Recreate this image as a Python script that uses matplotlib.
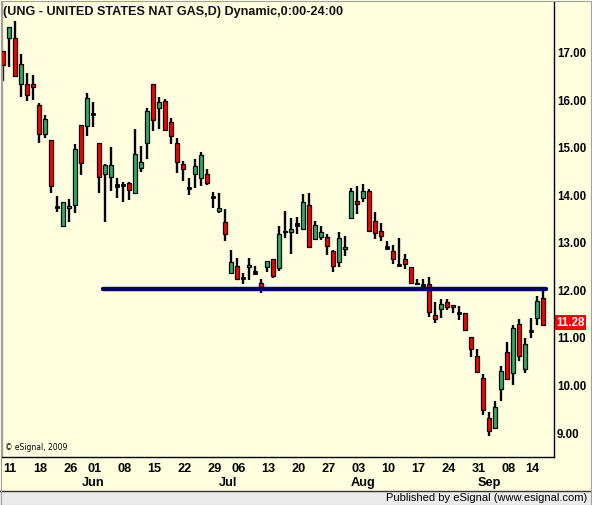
import numpy as np
import matplotlib
matplotlib.use('Agg')
from matplotlib import pyplot as plt
from matplotlib.patches import Rectangle
import matplotlib.transforms as mtransforms

# daily OHLC, UNG, 11 May - 17 Sep 2009 (trading days)
opens = [17.03, 17.31, 17.31, 16.34, 16.34, 16.34, 15.91, 15.29, 15.17, 13.76,
         13.36, 13.73, 13.80, 15.48, 15.47, 15.71, 15.10, 14.45, 14.38, 14.21,
         14.22, 14.26, 14.06, 14.57, 15.11, 16.34, 15.84, 15.99, 15.54, 15.11,
         14.66, 14.15, 14.45, 14.37, 14.45, 13.96, 13.68, 13.44, 12.36, 12.52,
         12.26, 12.49, 12.38, 12.15, 12.49, 12.66, 12.47, 13.26, 13.22, 13.39,
         13.29, 13.80, 13.08, 13.12, 13.12, 12.83, 12.59, 12.87, 13.53, 13.88,
         13.95, 14.09, 13.47, 13.25, 12.90, 12.83, 12.54, 12.66, 12.49, 12.16,
         12.12, 12.13, 11.48, 11.62, 11.75, 11.69, 11.53, 11.52, 11.03, 10.61,
         10.15, 9.31, 9.10, 9.92, 10.70, 10.26, 11.29, 10.34, 11.15, 11.41, 11.84]
highs = [17.03, 17.55, 17.66, 16.98, 16.57, 16.54, 15.94, 15.69, 15.17, 13.99,
         13.86, 13.92, 15.08, 15.48, 16.15, 15.96, 15.11, 14.66, 15.01, 14.36,
         14.29, 14.29, 15.39, 15.04, 15.84, 16.34, 16.07, 16.02, 15.62, 15.20,
         14.73, 14.36, 14.76, 14.91, 14.55, 14.07, 14.05, 13.72, 12.85, 12.68,
         12.36, 12.68, 12.52, 12.24, 12.61, 12.66, 13.36, 13.67, 13.52, 13.54,
         14.02, 14.05, 13.46, 13.36, 13.19, 12.85, 13.22, 13.15, 14.16, 14.20,
         14.24, 14.14, 13.65, 13.41, 13.04, 12.96, 13.10, 12.76, 12.49, 12.24,
         12.24, 12.28, 11.76, 11.81, 11.81, 11.69, 11.67, 11.53, 11.03, 10.76,
         10.24, 9.44, 9.67, 10.41, 10.91, 11.27, 11.39, 10.99, 11.41, 11.89, 11.98]
lows = [16.40, 16.71, 16.49, 16.08, 15.98, 16.01, 15.11, 15.20, 14.06, 13.66,
        13.34, 13.45, 13.62, 14.42, 15.26, 15.43, 14.06, 13.45, 14.10, 13.95,
        13.87, 13.91, 14.03, 14.50, 14.77, 15.36, 15.40, 15.38, 15.08, 14.47,
        14.31, 14.01, 14.15, 14.19, 14.21, 13.74, 13.64, 13.03, 12.36, 12.24,
        12.14, 12.21, 12.36, 11.95, 12.38, 12.26, 12.40, 13.11, 12.77, 13.19,
        13.29, 12.92, 13.08, 13.06, 12.75, 12.38, 12.50, 12.73, 13.52, 13.60,
        13.87, 13.25, 13.08, 13.03, 12.87, 12.55, 12.52, 12.45, 12.15, 12.13,
        12.08, 11.45, 11.32, 11.41, 11.58, 11.52, 11.38, 11.15, 10.59, 10.28,
        9.38, 8.94, 9.08, 9.68, 10.13, 10.02, 10.52, 10.26, 10.99, 11.27, 11.29]
closes = [16.75, 17.55, 16.52, 16.76, 16.12, 16.28, 15.29, 15.61, 14.20, 13.76,
          13.86, 13.78, 14.97, 14.68, 16.05, 15.71, 14.38, 14.64, 14.64, 14.21,
          14.22, 14.12, 14.87, 14.71, 15.78, 15.59, 15.96, 15.38, 15.25, 14.71,
          14.55, 14.15, 14.62, 14.84, 14.27, 13.96, 13.73, 13.18, 12.59, 12.24,
          12.26, 12.54, 12.38, 12.05, 12.61, 12.31, 13.19, 13.22, 13.29, 13.39,
          13.86, 12.92, 13.38, 13.24, 12.94, 12.52, 13.10, 12.91, 14.09, 13.82,
          14.09, 13.25, 13.20, 13.15, 12.90, 12.66, 12.54, 12.55, 12.16, 12.13,
          12.12, 11.55, 11.39, 11.71, 11.65, 11.65, 11.53, 11.17, 10.76, 10.29,
          9.48, 9.04, 9.54, 10.31, 10.13, 11.20, 10.62, 10.87, 11.15, 11.78, 11.28]

day_ticks = [0, 5, 10, 14, 19, 24, 29, 34, 38, 43, 48, 53, 58, 63, 68, 73, 78, 83, 87]
day_labels = ['11', '18', '26', '01', '08', '15', '22', '29', '06', '13',
              '20', '27', '03', '10', '17', '24', '31', '08', '14']
month_pos = [15, 37.5, 60, 81]
month_labels = ['Jun', 'Jul', 'Aug', 'Sep']

level = 12.02
level_span = [16.6, 90.5]
last_price = 11.28

W, H = 592, 505
bg = '#ffffe0'
fig = plt.figure(figsize=(W / 100, H / 100), dpi=100, facecolor=bg)
ax = fig.add_axes([2 / W, 48 / H, 552 / W, 455 / H])
ax.set_facecolor(bg)

x = np.arange(len(opens))
o = np.array(opens)
c = np.array(closes)
hi = np.array(highs)
lo = np.array(lows)

ax.vlines(x, lo, hi, color='black', lw=1.7, zorder=2)
body_lo = np.minimum(o, c)
body_h = np.abs(c - o)
doji = body_h < 0.015
cols = np.where(c > o, '#33aa66', '#ff0000')
ax.bar(x[~doji], body_h[~doji], bottom=body_lo[~doji], width=0.72,
       color=cols[~doji], edgecolor='black', lw=0.9, zorder=3)
ax.bar(x[doji], 0.05, bottom=c[doji] - 0.025, width=0.72,
       color='black', edgecolor='black', lw=0.6, zorder=3)

ax.plot(level_span, [level, level], color='#000066', lw=3.2,
        solid_capstyle='round', zorder=4)

ax.set_xlim(-0.22, 91.78)
ax.set_ylim(8.495, 18.07)

yt = np.arange(9, 18)
ax.yaxis.tick_right()
ax.set_yticks(yt)
ax.set_yticklabels(['%.2f' % v for v in yt], fontsize=8.3, fontweight='bold',
                   family='Liberation Sans')
ax.set_xticks(day_ticks)
ax.set_xticklabels(day_labels, fontsize=9.2, fontweight='bold',
                   family=['Liberation Sans Narrow', 'Liberation Sans'], ha='left')
ax.tick_params(axis='y', length=0, pad=2)
ax.tick_params(axis='x', length=0, pad=4)

trans = mtransforms.blended_transform_factory(ax.transData, ax.transAxes)
for p, m in zip(month_pos, month_labels):
    ax.text(p, -0.044, m, transform=trans, ha='center', va='top', fontsize=9.2,
            fontweight='bold', family=['Liberation Sans Narrow', 'Liberation Sans'])

ax.annotate('%.2f' % last_price, xy=(1.0, last_price), xycoords=('axes fraction', 'data'),
            xytext=(1.5, 1.5), textcoords='offset points', ha='left', va='center',
            color='white', fontsize=8.3, fontweight='bold', family='Liberation Sans',
            bbox=dict(boxstyle='square,pad=0.12', fc='#ff0000', ec='none'),
            annotation_clip=False)

ax.spines['top'].set_visible(False)
ax.spines['left'].set_color('#a0a0a0')
ax.spines['bottom'].set_color('black')
ax.spines['right'].set_color('black')
for s in ['left', 'bottom', 'right']:
    ax.spines[s].set_linewidth(1.0)

ax.text(0.002, 0.992, '(UNG - UNITED STATES NAT GAS,D) Dynamic,0:00-24:00',
        transform=ax.transAxes, ha='left', va='top', fontsize=9.1,
        fontweight='bold', family='Liberation Sans', color='#111111')
ax.text(0.006, 0.012, '\u00a9 eSignal, 2009', transform=ax.transAxes, ha='left',
        va='bottom', fontsize=5.5, family='DejaVu Sans')

# footer bar
fig.patches.append(Rectangle((0, 0), 1, 14 / H, transform=fig.transFigure,
                             fc='#ebebeb', ec='none', zorder=0))
fig.lines.append(plt.Line2D([0, 1], [14 / H, 14 / H], transform=fig.transFigure,
                            color='#333333', lw=1.0))
fig.text(587 / W, 7 / H, 'Published by eSignal (www.esignal.com)', ha='right',
         va='center', fontsize=8.0, family='Liberation Sans')
fig.patches.append(Rectangle((0.5 / W, 0.5 / H), 1 - 1.5 / W, 1 - 1.5 / H,
                             transform=fig.transFigure, fc='none', ec='#a0a0a0',
                             lw=0.8, zorder=5))

fig.savefig('out.png', dpi=100, facecolor=bg)
